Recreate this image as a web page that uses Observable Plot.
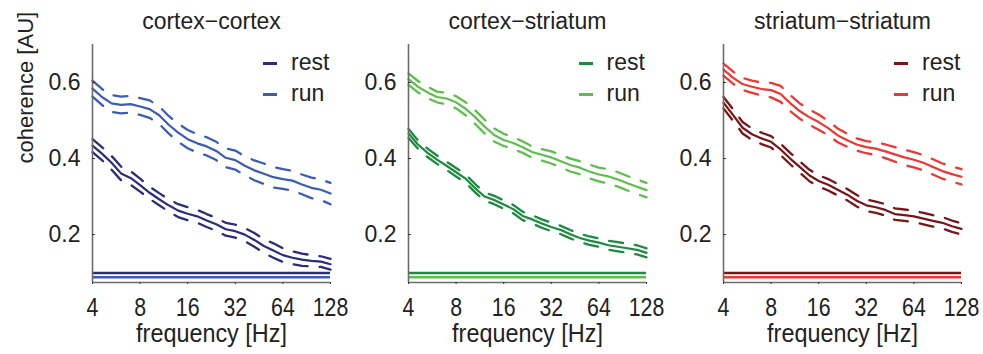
<!DOCTYPE html>
<html><head><meta charset="utf-8">
<script src="https://cdn.jsdelivr.net/npm/d3@7"></script>
<script src="https://cdn.jsdelivr.net/npm/@observablehq/plot@0.6"></script>
<style>
body{margin:0;background:#fff;}
#chart{position:relative;width:983px;height:354px;overflow:hidden;font-family:"Liberation Sans",Arial,sans-serif;color:#222;}
.panel{position:absolute;top:0;}
.leg{position:absolute;font-size:23px;line-height:23px;color:#222;}
.sw{position:absolute;height:3px;width:14px;}
</style></head><body><div id="chart"></div>
<script>
// frequency grid (Hz), 0.2-octave steps from 4 to 128
const freq = [4, 4.59, 5.28, 6.06, 6.96, 8, 9.19, 10.56, 12.13, 13.93, 16, 18.38, 21.11, 24.25, 27.86, 32, 36.76, 42.22, 48.5, 55.72, 64, 73.52, 84.45, 97.01, 111.43, 128];
const titles = ["cortex\u2212cortex", "cortex\u2212striatum", "striatum\u2212striatum"];
const conditions = ["rest", "run"];
const xTicks = [4, 8, 16, 32, 64, 128];
const yTicks = [0.2, 0.4, 0.6];
const restColors = ["#2d2b7c", "#1b8b3f", "#7a1517"];
const runColors = ["#3a5cb4", "#5dbf4b", "#ee3632"];

// cortex-cortex
const ccRestMean = [.434,.413,.389,.361,.349,.330,.310,.293,.277,.263,.255,.248,.237,.227,.214,.209,.200,.186,.170,.158,.146,.139,.134,.131,.129,.122];
const ccRestSE   = [.017,.017,.018,.018,.018,.017,.016,.016,.016,.017,.017,.017,.017,.017,.017,.017,.017,.018,.018,.019,.018,.017,.016,.015,.014,.014];
const ccRunMean  = [.584,.562,.545,.541,.543,.537,.530,.514,.489,.468,.451,.440,.432,.420,.402,.396,.381,.369,.360,.351,.346,.342,.332,.323,.318,.308];
const ccRunSE    = [.021,.021,.022,.022,.022,.022,.023,.023,.023,.024,.024,.024,.024,.024,.025,.025,.025,.026,.027,.027,.026,.026,.026,.027,.027,.028];
// cortex-striatum
const csRestMean = [.466,.437,.415,.397,.381,.364,.347,.322,.300,.291,.279,.267,.249,.240,.229,.220,.212,.201,.191,.184,.179,.172,.168,.164,.160,.152];
const csRestSE   = [.012,.011,.011,.011,.011,.011,.011,.011,.011,.011,.011,.011,.011,.011,.011,.011,.011,.011,.011,.011,.011,.012,.012,.012,.012,.012];
const csRunMean  = [.609,.589,.574,.562,.558,.548,.531,.509,.484,.462,.449,.441,.430,.417,.410,.403,.393,.383,.376,.366,.358,.353,.345,.335,.326,.317];
const csRunSE    = [.015,.015,.015,.014,.015,.016,.017,.018,.018,.017,.016,.016,.015,.015,.015,.016,.016,.017,.017,.018,.018,.019,.019,.019,.019,.019];
// striatum-striatum
const ssRestMean = [.547,.515,.481,.464,.453,.444,.424,.400,.378,.356,.341,.331,.318,.305,.289,.277,.272,.265,.254,.251,.248,.242,.236,.231,.222,.215];
const ssRestSE   = [.015,.015,.015,.015,.015,.015,.015,.015,.015,.015,.015,.015,.015,.015,.015,.015,.015,.015,.015,.015,.015,.015,.015,.015,.015,.015];
const ssRunMean  = [.634,.613,.596,.589,.583,.580,.570,.546,.525,.509,.496,.480,.461,.448,.437,.430,.426,.419,.411,.403,.397,.389,.378,.367,.359,.352];
const ssRunSE    = [.016,.016,.016,.016,.017,.019,.021,.021,.020,.020,.020,.019,.018,.017,.016,.016,.017,.018,.019,.020,.020,.020,.020,.020,.020,.020];
// chance (shuffled) levels
const restChance = [0.099, 0.099, 0.099];
const runChance  = [0.088, 0.088, 0.088];

const panels = [
  {rest: [ccRestMean, ccRestSE], run: [ccRunMean, ccRunSE]},
  {rest: [csRestMean, csRestSE], run: [csRunMean, csRunSE]},
  {rest: [ssRestMean, ssRestSE], run: [ssRunMean, ssRunSE]}
];

const axisLeft = [92, 407.5, 723];
const plotW = 238;
const chart = document.getElementById("chart");
const font = "'Liberation Sans', Arial, sans-serif";

function rows(mean, se) {
  return freq.map((f, j) => ({f, m: mean[j], lo: mean[j] - se[j], hi: mean[j] + se[j]}));
}
function condense(t, s) {
  let tr = t.getAttribute("transform");
  if (!tr) {
    const x = t.getAttribute("x") || 0, y = t.getAttribute("y") || 0;
    t.removeAttribute("x"); t.removeAttribute("y");
    tr = `translate(${x},${y})`;
  }
  t.setAttribute("transform", tr + ` scale(${s},1)`);
}

panels.forEach((p, i) => {
  const ml = i === 0 ? 92 : 62, mr = 20;
  const seriesMarks = [];
  conditions.slice().reverse().forEach(c => {
    const col = c === "rest" ? restColors[i] : runColors[i];
    const d = rows(p[c][0], p[c][1]);
    seriesMarks.push(
      Plot.line(d, {x: "f", y: "hi", stroke: col, strokeWidth: 2.3, strokeDasharray: "14,12"}),
      Plot.line(d, {x: "f", y: "lo", stroke: col, strokeWidth: 2.3, strokeDasharray: "14,12"}),
      Plot.line(d, {x: "f", y: "m", stroke: col, strokeWidth: 2.2})
    );
  });
  const marks = [
    Plot.ruleY([runChance[i]], {stroke: runColors[i], strokeWidth: 2.6}),
    Plot.ruleY([restChance[i]], {stroke: restColors[i], strokeWidth: 2.6}),
    ...seriesMarks,
    Plot.ruleX([4], {stroke: "#6b6b6b", strokeWidth: 1.6}),
    Plot.ruleY([0.074], {stroke: "#6b6b6b", strokeWidth: 1.6}),
    Plot.axisY({ticks: yTicks, tickSize: -3, tickPadding: 15, tickFormat: d => d.toFixed(1), label: null, fontSize: 23, stroke: "#333"}),
    Plot.axisX({ticks: xTicks, tickSize: 2, tickPadding: 13, tickFormat: d => String(d), label: null, fontSize: 26, stroke: "#333"}),
    Plot.text([titles[i]], {frameAnchor: "top", dy: -23, lineAnchor: "middle", fontSize: 23, fill: "#222"}),
    Plot.text(["frequency [Hz]"], {frameAnchor: "bottom", dy: 51, lineAnchor: "middle", fontSize: 26, fill: "#222"})
  ];
  if (i === 0) marks.push(Plot.text(["coherence [AU]"], {frameAnchor: "left", dx: -67, rotate: -90, fontSize: 22, fill: "#222"}));
  const svg = Plot.plot({
    width: ml + plotW + mr, height: 354,
    marginLeft: ml, marginRight: mr, marginTop: 44, marginBottom: 72,
    x: {type: "log", base: 2, domain: [4, 128]},
    y: {domain: [0.074, 0.70]},
    style: {fontFamily: font, fontSize: "23px", color: "#222", background: "transparent", overflow: "visible"},
    marks
  });
  svg.querySelectorAll('g[aria-label="x-axis tick label"] text').forEach(t => condense(t, 0.82));
  svg.querySelectorAll("text").forEach(t => { if (t.textContent === "frequency [Hz]") condense(t, 0.9); });
  svg.classList.add("panel");
  svg.style.left = (axisLeft[i] - ml) + "px";
  chart.appendChild(svg);

  // legend
  conditions.forEach((c, k) => {
    const col = c === "rest" ? restColors[i] : runColors[i];
    const yc = 64 + k * 30.5;
    const sw = document.createElement("div");
    sw.className = "sw";
    sw.style.background = col;
    sw.style.left = (axisLeft[i] + 171) + "px";
    sw.style.top = (yc - 2) + "px";
    chart.appendChild(sw);
    const t = document.createElement("div");
    t.className = "leg";
    t.textContent = c;
    t.style.left = (axisLeft[i] + 199) + "px";
    t.style.top = (yc - 13) + "px";
    chart.appendChild(t);
  });
});
</script>
</body></html>
